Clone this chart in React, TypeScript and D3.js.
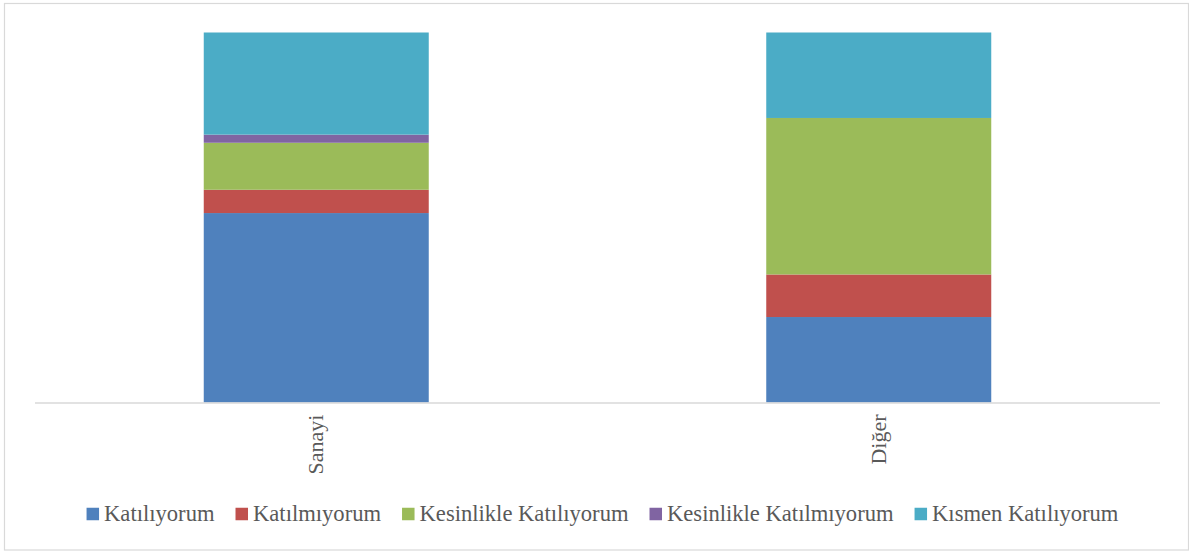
import React, { useEffect, useRef } from "react";
import * as d3 from "d3";

const categories = ["Sanayi", "Diğer"];
const seriesNames = [
  "Katılıyorum",
  "Katılmıyorum",
  "Kesinlikle Katılıyorum",
  "Kesinlikle Katılmıyorum",
  "Kısmen Katılıyorum",
];
const seriesColors = ["#4F81BD", "#C0504D", "#9BBB59", "#8064A2", "#4BACC6"];
// percentage values per category (stack order bottom → top)
const katiliyorum = [51.2, 23.1];
const katilmiyorum = [6.3, 11.5];
const kesinlikleKatiliyorum = [12.7, 42.3];
const kesinlikleKatilmiyorum = [2.2, 0];
const kismenKatiliyorum = [27.6, 23.1];

const W = 1189;
const H = 551;
const FONT = "Liberation Serif";

export default function App() {
  const ref = useRef<SVGSVGElement | null>(null);

  useEffect(() => {
    const svg = d3.select(ref.current);
    svg.selectAll("*").remove();

    const seriesValues = [
      katiliyorum,
      katilmiyorum,
      kesinlikleKatiliyorum,
      kesinlikleKatilmiyorum,
      kismenKatiliyorum,
    ];
    const rows = categories.map((c, i) => {
      const r: any = { cat: c };
      seriesNames.forEach((s, j) => (r[s] = seriesValues[j][i]));
      return r;
    });
    const stacked = d3.stack<any>().keys(seriesNames).offset(d3.stackOffsetExpand)(rows);

    svg
      .append("rect")
      .attr("x", 4.5)
      .attr("y", 3.5)
      .attr("width", 1184)
      .attr("height", 546.5)
      .attr("fill", "#fff")
      .attr("stroke", "#d9d9d9")
      .attr("stroke-width", 1.2);

    const plotLeft = 35;
    const plotRight = 1160;
    const plotTop = 32.5;
    const plotBottom = 402.5;

    const x = d3
      .scaleBand<string>()
      .domain(categories)
      .range([plotLeft, plotRight])
      .paddingInner(0.6)
      .paddingOuter(0.3);
    const y = d3.scaleLinear().domain([0, 1]).range([plotBottom, plotTop]);

    const g = svg.append("g");
    stacked.forEach((layer, j) => {
      g.selectAll(null)
        .data(layer)
        .enter()
        .append("rect")
        .attr("x", (d: any) => x(d.data.cat)!)
        .attr("width", x.bandwidth())
        .attr("y", (d: any) => y(d[1]))
        .attr("height", (d: any) => Math.max(0, y(d[0]) - y(d[1])))
        .attr("fill", seriesColors[j]);
    });

    svg
      .append("line")
      .attr("x1", plotLeft)
      .attr("x2", plotRight)
      .attr("y1", plotBottom + 0.5)
      .attr("y2", plotBottom + 0.5)
      .attr("stroke", "#d9d9d9")
      .attr("stroke-width", 1.5);

    categories.forEach((c) => {
      const cx = x(c)! + x.bandwidth() / 2;
      svg
        .append("text")
        .attr("transform", `translate(${cx + 7},${plotBottom + 12}) rotate(-90)`)
        .attr("text-anchor", "end")
        .attr("font-family", FONT)
        .attr("font-size", 22)
        .attr("fill", "#595959")
        .text(c);
    });

    const lg = svg.append("g");
    const sq = 12.5;
    const gapSqText = 5;
    const gapItem = 21;
    let cursor = 0;
    seriesNames.forEach((s, j) => {
      const ig = lg.append("g");
      ig.append("rect")
        .attr("x", 0)
        .attr("y", -sq / 2)
        .attr("width", sq)
        .attr("height", sq)
        .attr("fill", seriesColors[j]);
      const t = ig
        .append("text")
        .attr("x", sq + gapSqText)
        .attr("y", 0)
        .attr("dy", "0.33em")
        .attr("font-family", FONT)
        .attr("font-size", 22.6)
        .attr("fill", "#595959")
        .text(s);
      const tw = (t.node() as SVGTextElement).getComputedTextLength();
      const w = sq + gapSqText + tw;
      ig.attr("transform", `translate(${cursor},0)`);
      cursor += w + gapItem;
    });
    const total = cursor - gapItem;
    const center = 602.5;
    lg.attr("transform", `translate(${center - total / 2},514)`);
  }, []);

  return (
    <svg
      ref={ref}
      width={W}
      height={H}
      style={{ position: "fixed", left: 0, top: 0, background: "#fff" }}
    />
  );
}
